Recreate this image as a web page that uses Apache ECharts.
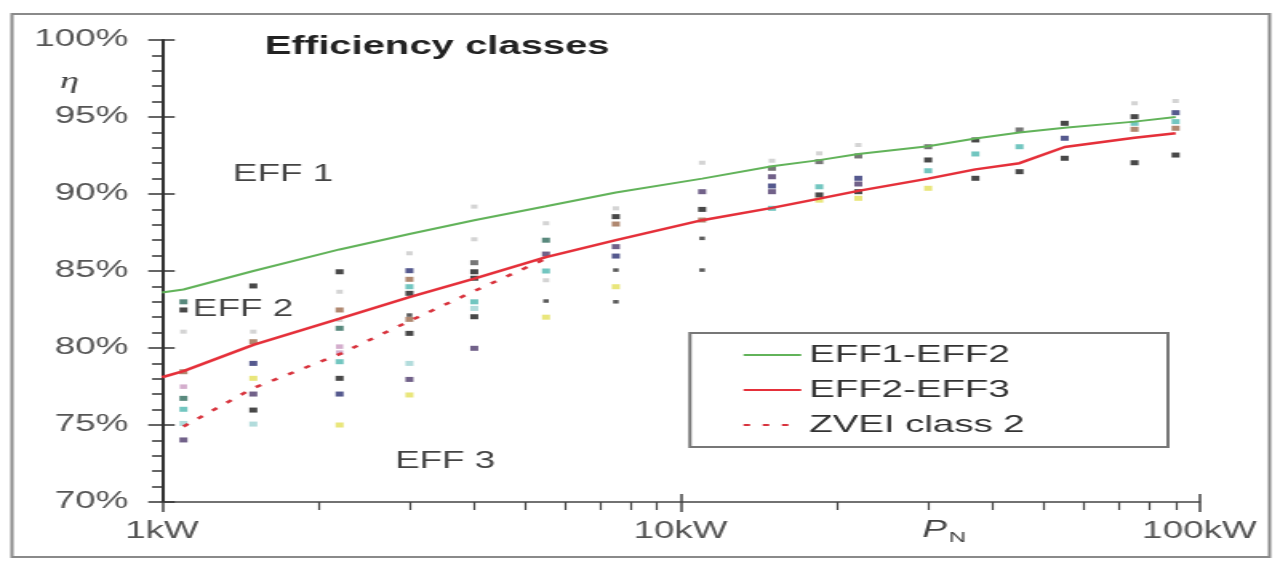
<!DOCTYPE html>
<html>
<head>
<meta charset="utf-8">
<script src="https://cdn.jsdelivr.net/npm/echarts@6/dist/echarts.min.js"></script>
<style>
html,body{margin:0;padding:0;background:#fff;overflow:hidden;}
#c{width:799.375px;height:561px;transform:scaleX(1.6);transform-origin:0 0;}
</style>
</head>
<body>
<div id="c"></div>
<script>
// ---- data ----
const kW      = [1, 1.1, 1.5, 2.2, 3, 4, 5.5, 7.5, 11, 15, 18.5, 22, 30, 37, 45, 55, 75, 90];
const eff1eff2 = [83.6, 83.8, 85.0, 86.4, 87.4, 88.3, 89.2, 90.1, 91.0, 91.8, 92.2, 92.6, 93.1, 93.6, 94.0, 94.3, 94.7, 95.0];
const eff2eff3 = [78.1, 78.5, 80.2, 81.9, 83.3, 84.5, 85.9, 87.0, 88.3, 89.1, 89.7, 90.2, 91.0, 91.6, 92.0, 93.05, 93.65, 93.95];
const zveiKW   = [1.1, 1.5, 2.2, 3, 4, 5.5];
const zvei2    = [74.9, 77.4, 79.6, 81.75, 83.7, 85.8];

const ptBlack   = [[1.1,82.47],[1.5,84.03],[1.5,75.97],[2.2,84.95],[2.2,78.03],[3,83.55],[3,80.95],[4,84.95],[4,84.53],[4,82.03],[7.5,88.53],[11,89.0],[18.5,89.94],[22,90.15],[30,92.21],[37,93.51],[37,91.02],[45,91.45],[55,94.59],[55,92.32],[75,95.02],[75,92.03],[90,92.53]];
const ptDarkSmall = [[5.5,83.05],[7.5,85.06],[7.5,83.0],[11,87.12],[11,85.06],[3,82.14]];
const ptNavy    = [[1.5,79.0],[2.2,77.01],[3,85.02],[7.5,85.97],[15,90.52],[22,91.02],[55,93.62],[90,95.28]];
const ptPurple  = [[1.1,74.03],[1.5,77.01],[3,77.96],[4,79.98],[5.5,86.1],[7.5,86.58],[11,90.15],[15,91.12],[15,90.15],[22,90.65]];
const ptDarkGrey = [[4,85.54],[15,91.67],[18.5,92.1],[22,92.47],[30,93.07],[45,94.16]];
const ptDarkTeal = [[1.1,83.0],[1.1,76.73],[2.2,81.28],[5.5,87.0]];
const ptCyan    = [[1.1,76.02],[2.2,79.11],[3,83.98],[4,83.0],[5.5,85.0],[15,89.07],[18.5,90.47],[30,91.51],[37,92.6],[45,93.07],[75,94.59],[90,94.7]];
const ptLightCyan = [[1.1,75.1],[1.5,75.06],[3,79.0],[4,82.57]];
const ptYellow  = [[1.5,78.03],[2.2,75.0],[3,76.95],[5.5,82.0],[7.5,83.98],[18.5,89.6],[22,89.72],[30,90.37]];
const ptLightGrey = [[1.1,81.06],[1.5,81.06],[2.2,83.65],[2.2,81.82],[3,86.15],[4,89.18],[4,87.06],[5.5,88.1],[5.5,84.4],[7.5,89.07],[11,92.03],[15,92.16],[18.5,92.64],[22,93.18],[75,95.89],[90,96.04]];
const ptBrown   = [[1.1,78.46],[1.5,80.41],[2.2,82.47],[3,84.46],[3,81.86],[7.5,88.05],[11,88.31],[75,94.2],[90,94.27]];
const ptPink    = [[1.1,77.49],[2.2,80.09],[2.2,79.7]];

const yTickValues = [70, 75, 80, 85, 90, 95, 100];
const yTickLabels = ['70%', '75%', '80%', '85%', '90%', '95%', '100%'];
const xTickValues = [1, 10, 100];
const xTickLabels = ['1kW', '10kW', '100kW'];
const xMinorTicks = [2, 3, 4, 5, 6, 7, 8, 9, 20, 30, 40, 50, 60, 70, 80, 90];

// ---- chart ----
const FONT = '"Liberation Sans", Arial, sans-serif';
const chart = echarts.init(document.getElementById('c'), null, {renderer: 'canvas'});

function pairs(xs, ys) { return xs.map((x, i) => [x, ys[i]]); }
function scatter(name, data, color, size) {
  return {
    name: name, type: 'scatter', data: data, symbol: 'rect',
    symbolSize: size, itemStyle: {color: color}, z: 2, silent: true
  };
}

const yLabel = v => { const i = yTickValues.indexOf(Math.round(v)); return i >= 0 ? yTickLabels[i] : ''; };
const xLabel = v => { const i = xTickValues.findIndex(t => Math.abs(t - v) < 1e-6); return i >= 0 ? xTickLabels[i] : ''; };

const option = {
  animation: false,
  backgroundColor: '#fff',
  grid: {left: 101.25, right: 49.375, top: 40, bottom: 59, containLabel: false},
  xAxis: [
    {
      type: 'log', logBase: 10, min: 1, max: 100,
      axisLine: {onZero: false, lineStyle: {color: '#444', width: 1.5}},
      axisTick: {show: true, inside: false, length: 10, lineStyle: {color: '#444', width: 1.5}},
      axisLabel: {formatter: xLabel, color: '#555', fontSize: 23, fontFamily: FONT, margin: 18},
      splitLine: {show: false}
    },
    {
      type: 'log', logBase: 10, min: 1, max: 100, position: 'bottom',
      axisLine: {show: false, onZero: false},
      axisTick: {show: true, inside: false, length: 8, customValues: xMinorTicks, lineStyle: {color: '#444', width: 1.2}},
      axisLabel: {show: false},
      splitLine: {show: false}
    },
    {
      type: 'log', logBase: 10, min: 1, max: 100, position: 'bottom',
      axisLine: {show: false, onZero: false},
      axisTick: {show: true, inside: true, length: 8, customValues: [10, 100], lineStyle: {color: '#444', width: 1.5}},
      axisLabel: {show: false},
      splitLine: {show: false}
    }
  ],
  yAxis: [
    {
      type: 'value', min: 70, max: 100, interval: 5,
      axisLine: {show: true, onZero: false, lineStyle: {color: '#333', width: 2}},
      axisTick: {show: true, inside: false, length: 8.6, lineStyle: {color: '#333', width: 1.5}},
      minorTick: {show: true, splitNumber: 5, length: 6.2, lineStyle: {color: '#333', width: 1.5}},
      axisLabel: {formatter: yLabel, color: '#555', fontSize: 23, fontFamily: FONT, margin: 21},
      splitLine: {show: false}
    },
    {
      type: 'value', min: 70, max: 100, interval: 5, position: 'left',
      axisLine: {show: false, onZero: false},
      axisTick: {show: true, inside: true, length: 8, lineStyle: {color: '#333', width: 1.5}},
      axisLabel: {show: false},
      splitLine: {show: false}
    }
  ],
  legend: {
    data: ['EFF1-EFF2', 'EFF2-EFF3', 'ZVEI class 2'],
    orient: 'vertical', left: 463.75, top: 342, padding: 0,
    itemWidth: 36, itemHeight: 14, itemGap: 9, selectedMode: false,
    itemStyle: {opacity: 0},
    textStyle: {fontSize: 24, fontFamily: FONT, color: '#333', lineHeight: 26}
  },
  series: [
    scatter('lg', ptLightGrey, '#c9c9c9', 4),
    scatter('pk', ptPink, '#c99ac0', 4.5),
    scatter('yl', ptYellow, '#e4e05a', 5),
    scatter('lc', ptLightCyan, '#9fd3d3', 5),
    scatter('cy', ptCyan, '#4fb8b0', 5),
    scatter('dt', ptDarkTeal, '#2f6b5c', 5),
    scatter('br', ptBrown, '#9c6a4c', 5),
    scatter('dg', ptDarkGrey, '#555555', 5),
    scatter('pu', ptPurple, '#4d3a6b', 5),
    scatter('nv', ptNavy, '#2b2f72', 5),
    scatter('ds', ptDarkSmall, '#333333', 3.5),
    scatter('bk', ptBlack, '#1a1a1a', 5),
    {
      name: 'EFF1-EFF2', type: 'line', data: pairs(kW, eff1eff2), symbol: 'none',
      lineStyle: {color: '#62b35a', width: 2}, itemStyle: {color: '#62b35a'}, z: 4
    },
    {
      name: 'EFF2-EFF3', type: 'line', data: pairs(kW, eff2eff3), symbol: 'none',
      lineStyle: {color: '#e5303a', width: 2.5}, itemStyle: {color: '#e5303a'}, z: 5
    },
    {
      name: 'ZVEI class 2', type: 'line', data: pairs(zveiKW, zvei2), symbol: 'none',
      lineStyle: {color: '#d8323c', width: 2.5, type: [4, 8]}, itemStyle: {color: '#d8323c'}, z: 4
    }
  ],
  graphic: [
    {type: 'rect', shape: {x: 7.5, y: 14, width: 786, height: 543}, style: {fill: 'none', stroke: '#8a8a8a', lineWidth: 2}, silent: true, z: 0},
    {type: 'rect', shape: {x: 431.25, y: 333, width: 298.75, height: 114}, style: {fill: 'none', stroke: '#777', lineWidth: 2}, silent: true, z: 10},
    {type: 'text', x: 165.6, y: 47, style: {text: 'Efficiency classes', fill: '#222', font: 'bold 25px ' + FONT, verticalAlign: 'middle'}, silent: true, z: 10},
    {type: 'text', x: 37.5, y: 82, style: {text: 'η', fill: '#444', font: 'italic 24px "Liberation Serif", serif', verticalAlign: 'middle'}, silent: true, z: 10},
    {type: 'text', x: 145.6, y: 175, style: {text: 'EFF 1', fill: '#444', font: '23px ' + FONT, verticalAlign: 'middle'}, silent: true, z: 10},
    {type: 'text', x: 120.6, y: 310, style: {text: 'EFF 2', fill: '#444', font: '23px ' + FONT, verticalAlign: 'middle'}, silent: true, z: 10},
    {type: 'text', x: 246.9, y: 462, style: {text: 'EFF 3', fill: '#444', font: '23px ' + FONT, verticalAlign: 'middle'}, silent: true, z: 10},
    {type: 'text', x: 576.5, y: 531, style: {text: 'P', fill: '#444', font: 'italic 23px ' + FONT, verticalAlign: 'middle'}, silent: true, z: 10},
    {type: 'text', x: 593, y: 538, style: {text: 'N', fill: '#444', font: '15px ' + FONT, verticalAlign: 'middle'}, silent: true, z: 10}
  ]
};
chart.setOption(option);
</script>
</body>
</html>
